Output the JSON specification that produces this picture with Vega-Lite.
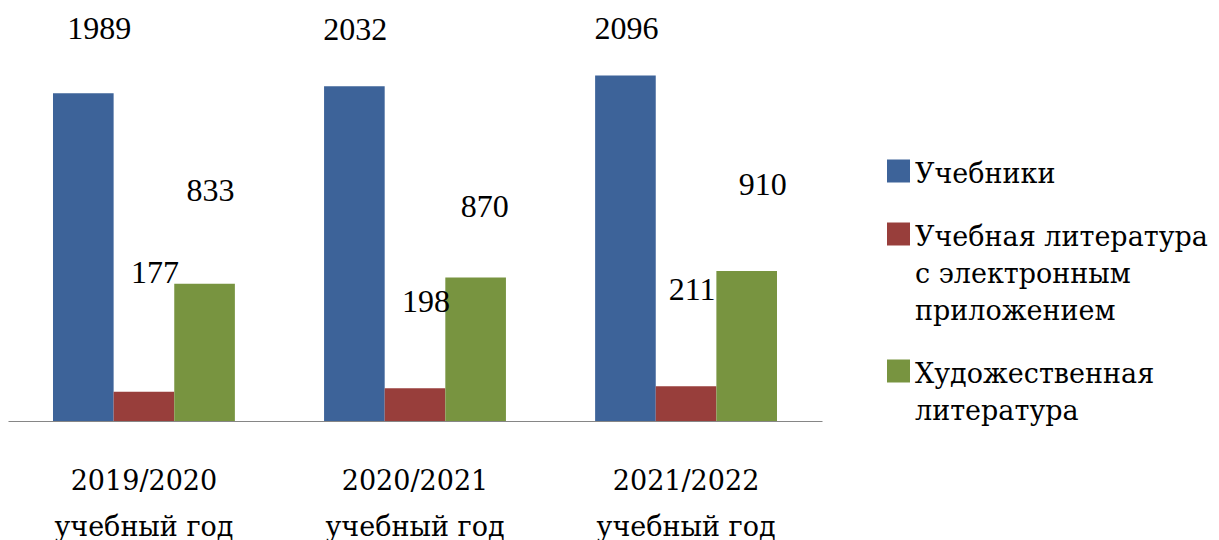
{
  "$schema": "https://vega.github.io/schema/vega-lite/v6.json",
  "width": 814,
  "height": 412,
  "autosize": {"type": "none"},
  "padding": {"left": 8, "top": 9, "right": 397, "bottom": 119},
  "background": "white",
  "config": {
    "view": {"stroke": null},
    "font": "Liberation Serif",
    "style": {"guide-label": {"lineHeight": 37}}
  },
  "data": {
    "values": [
      {"year": "2019/2020 учебный год", "series": "Учебники", "value": 1989},
      {"year": "2019/2020 учебный год", "series": "Учебная литература с электронным приложением", "value": 177},
      {"year": "2019/2020 учебный год", "series": "Художественная литература", "value": 833},
      {"year": "2020/2021 учебный год", "series": "Учебники", "value": 2032},
      {"year": "2020/2021 учебный год", "series": "Учебная литература с электронным приложением", "value": 198},
      {"year": "2020/2021 учебный год", "series": "Художественная литература", "value": 870},
      {"year": "2021/2022 учебный год", "series": "Учебники", "value": 2096},
      {"year": "2021/2022 учебный год", "series": "Учебная литература с электронным приложением", "value": 211},
      {"year": "2021/2022 учебный год", "series": "Художественная литература", "value": 910}
    ]
  },
  "encoding": {
    "x": {
      "field": "year",
      "type": "nominal",
      "sort": null,
      "scale": {"paddingInner": 0.329, "paddingOuter": 0.166},
      "axis": {
        "title": null,
        "domain": true,
        "domainColor": "#868686",
        "domainWidth": 1.2,
        "ticks": false,
        "labelAngle": 0,
        "labelFont": "DejaVu Serif",
        "labelFontSize": 27,
        "labelColor": "#000000",
        "labelPadding": 68,
        "labelBaseline": "alphabetic",
        "labelLineHeight": 46,
        "labelLimit": 500,
        "labelOverlap": false,
        "labelExpr": "[substring(datum.label, 0, 9), substring(datum.label, 10)]"
      }
    },
    "xOffset": {
      "field": "series",
      "type": "nominal",
      "sort": ["Учебники", "Учебная литература с электронным приложением", "Художественная литература"],
      "scale": {"paddingInner": 0, "paddingOuter": 0}
    },
    "y": {
      "field": "value",
      "type": "quantitative",
      "scale": {"domain": [0, 2500], "nice": false},
      "axis": null
    }
  },
  "layer": [
    {
      "mark": {"type": "bar"},
      "encoding": {
        "color": {
          "field": "series",
          "type": "nominal",
          "sort": ["Учебники", "Учебная литература с электронным приложением", "Художественная литература"],
          "scale": {
            "domain": ["Учебники", "Учебная литература с электронным приложением", "Художественная литература"],
            "range": ["#3D6399", "#983E3B", "#789440"]
          },
          "legend": {
            "orient": "none",
            "legendX": 877,
            "legendY": 160,
            "direction": "vertical",
            "title": null,
            "padding": 0,
            "symbolType": "M-1,-2H1V0H-1Z",
            "symbolSize": 529,
            "symbolStrokeWidth": 0,
            "symbolOpacity": 1,
            "labelFont": "DejaVu Serif",
            "labelFontSize": 27,
            "labelColor": "#000000",
            "labelBaseline": "alphabetic",
            "labelOffset": 3,
            "labelLimit": 500,
            "rowPadding": 34,
            "labelExpr": "datum.label == 'Учебная литература с электронным приложением' ? ['Учебная литература', 'с электронным', 'приложением'] : datum.label == 'Художественная литература' ? ['Художественная', 'литература'] : datum.label"
          }
        }
      }
    },
    {
      "transform": [{"filter": "datum.series == 'Учебники'"}],
      "mark": {
        "type": "text",
        "font": "Liberation Serif",
        "fontSize": 32,
        "color": "#000000",
        "dx": {"expr": "datum.year == '2019/2020 учебный год' ? 16 : 1"},
        "dy": {"expr": "datum.year == '2019/2020 учебный год' ? -64 : datum.year == '2020/2021 учебный год' ? -56 : -47"}
      },
      "encoding": {"text": {"field": "value", "type": "quantitative", "format": "d"}}
    },
    {
      "transform": [{"filter": "datum.series == 'Учебная литература с электронным приложением'"}],
      "mark": {
        "type": "text",
        "font": "Liberation Serif",
        "fontSize": 32,
        "color": "#000000",
        "dx": {"expr": "datum.year == '2021/2022 учебный год' ? 6 : 11"},
        "dy": {"expr": "datum.year == '2019/2020 учебный год' ? -119 : datum.year == '2020/2021 учебный год' ? -86 : -96"}
      },
      "encoding": {"text": {"field": "value", "type": "quantitative", "format": "d"}}
    },
    {
      "transform": [{"filter": "datum.series == 'Художественная литература'"}],
      "mark": {
        "type": "text",
        "font": "Liberation Serif",
        "fontSize": 32,
        "color": "#000000",
        "dx": {"expr": "datum.year == '2019/2020 учебный год' ? 6 : datum.year == '2020/2021 учебный год' ? 9 : 16"},
        "dy": {"expr": "datum.year == '2019/2020 учебный год' ? -93 : datum.year == '2020/2021 учебный год' ? -71 : -86"}
      },
      "encoding": {"text": {"field": "value", "type": "quantitative", "format": "d"}}
    }
  ]
}
